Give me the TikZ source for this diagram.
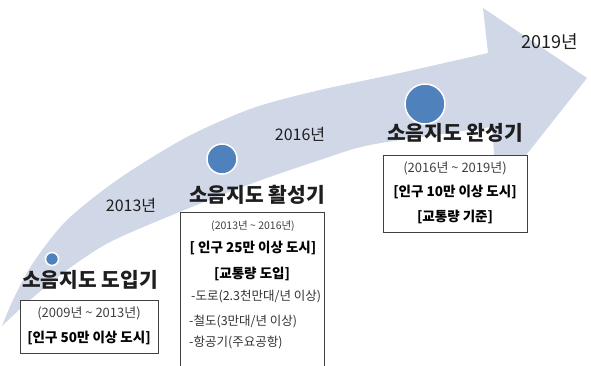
\documentclass[tikz,border=0pt]{standalone}
\usepackage{fontspec}
\setmainfont{Noto Sans CJK KR}
\definecolor{band}{RGB}{208,216,232}
\definecolor{dotc}{RGB}{79,129,189}
\definecolor{boxline}{RGB}{64,64,64}
\definecolor{txt}{RGB}{30,30,30}
\newcommand{\fs}[1]{\fontsize{#1}{#1}\selectfont}
\tikzset{
  dotnode/.style={circle,fill=dotc,draw=white,line width=1.5pt,inner sep=0pt},
  stagetitle/.style={font=\fs{20.3}\bfseries,text=txt,inner sep=0pt},
  yearlbl/.style={font=\fs{16},text=txt,inner sep=0pt},
  infobox/.style={draw=boxline,fill=white,line width=0.9pt},
  periodtext/.style={font=\fs{13},text=black!75,inner sep=0pt},
  condtext/.style={font=\fs{13.5}\bfseries,text=black,inner sep=0pt},
  listtext/.style={font=\fs{12.5},text=black!80,inner sep=0pt,anchor=west},
}
\begin{document}
\begin{tikzpicture}[x=1pt,y=-1pt]
\useasboundingbox (0,0) rectangle (591,365);
% big curved arrow
\fill[band] plot[smooth] coordinates {(2,326) (13,300) (33,263) (67,220) (120,178) (187,137) (253,108) (320,90) (400,73) (488,53)}
  -- (483,8) -- (587,78) -- (497,192) -- (492,127)
  -- plot[smooth] coordinates {(492,127) (470,130) (370,145) (320,160) (253,183) (177,213) (110,242) (67,270) (30,300) (2,326)} -- cycle;
% dots
\node[dotnode,minimum size=13pt] (d1) at (52,259) {};
\node[dotnode,minimum size=30pt] (d2) at (222,159) {};
\node[dotnode,minimum size=40pt] (d3) at (425,104) {};
% year labels
\node[yearlbl] (y13) at (131,205) {2013년};
\node[yearlbl] (y16) at (300,134) {2016년};
\node[yearlbl,font=\fs{18}] (y19) at (550,42) {2019년};
% stage titles
\node[stagetitle] (t1) at (90,280) {소음지도 도입기};
\node[stagetitle] (t2) at (257,195) {소음지도 활성기};
\node[stagetitle] (t3) at (455,133) {소음지도 완성기};
% boxes
\draw[infobox] (20,300) rectangle (158,353);
\draw[infobox] (180,212) rectangle (324,370);
\draw[infobox] (383,155) rectangle (527,232);
% box 1
\node[periodtext] (r1) at (89,313) {(2009년 \textasciitilde{} 2013년)};
\node[condtext] (c1) at (89,338) {[인구 50만 이상 도시]};
% box 2
\node[periodtext,font=\fs{10.5}] (r2) at (253,226) {(2013년 \textasciitilde{} 2016년)};
\node[condtext] (c2) at (253,248) {[ 인구 25만 이상 도시]};
\node[condtext] (c2b) at (252,274) {[교통량 도입]};
\node[listtext] (i1) at (191,297) {-도로(2.3천만대/년 이상)};
\node[listtext] (i2) at (189,322) {-철도(3만대/년 이상)};
\node[listtext] (i3) at (189,343) {-항공기(주요공항)};
% box 3
\node[periodtext] (r3) at (455,168) {(2016년 \textasciitilde{} 2019년)};
\node[condtext] (c3) at (455,192) {[인구 10만 이상 도시]};
\node[condtext] (c3b) at (455,217) {[교통량 기준]};
\end{tikzpicture}
\end{document}
